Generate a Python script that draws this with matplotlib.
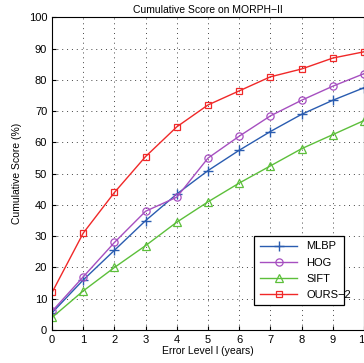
import numpy as np
import matplotlib
matplotlib.use("Agg")
import matplotlib.pyplot as plt

plt.rcParams['font.family'] = ['Liberation Sans', 'DejaVu Sans']

levels = np.arange(0, 11)
mlbp = [5.5, 16, 25.5, 35, 43.5, 51, 57.5, 63.5, 69, 73.5, 77.5]
hog = [6, 17, 28, 38, 42.5, 55, 62, 68.5, 73.5, 78, 82]
sift = [4, 12.5, 20, 27, 34.5, 41, 47, 52.5, 58, 62.5, 67]
ours = [12, 31, 44, 55.5, 65, 72, 76.5, 81, 83.5, 87, 89]

fig = plt.figure(figsize=(3.64, 3.63), dpi=100)
ax = fig.add_axes([0.143, 0.091, 0.857, 0.861])

ax.plot(levels, mlbp, color='#2a5cb0', marker='+', ms=7, mew=1.0, lw=1.0, label='MLBP')
ax.plot(levels, hog, color='#a64fc0', marker='o', ms=5.2, mfc='none', mew=0.9, lw=1.0, label='HOG')
ax.plot(levels, sift, color='#5cbf3a', marker='^', ms=6, mfc='none', mew=0.9, lw=1.0, label='SIFT')
ax.plot(levels, ours, color='#f02828', marker='s', ms=5, mfc='none', mew=0.9, lw=1.0, label='OURS\u22122')

ax.set_xlim(0, 10)
ax.set_ylim(0, 100)
ax.set_xticks(levels)
ax.set_yticks(np.arange(0, 101, 10))
ax.grid(True, linestyle=(0, (1, 4)), color='#444444', lw=0.7)
ax.tick_params(direction='in', labelsize=8, length=3)
for s in ax.spines.values():
    s.set_linewidth(0.8)

ax.set_title('Cumulative Score on MORPH\u2212II', fontsize=7.5, pad=3)
ax.set_xlabel('Error Level l (years)', fontsize=7.5, labelpad=1)
ax.set_ylabel('Cumulative Score (%)', fontsize=7.5, labelpad=5)

leg = ax.legend(loc='lower left', bbox_to_anchor=(0.63, 0.061, 0.325, 0.233), mode='expand',
                fontsize=8, fancybox=False, framealpha=1, edgecolor='black',
                handlelength=3.4, borderpad=0.5, labelspacing=0.55)
leg.get_frame().set_linewidth(0.9)

fig.savefig('out.png', dpi=100)
